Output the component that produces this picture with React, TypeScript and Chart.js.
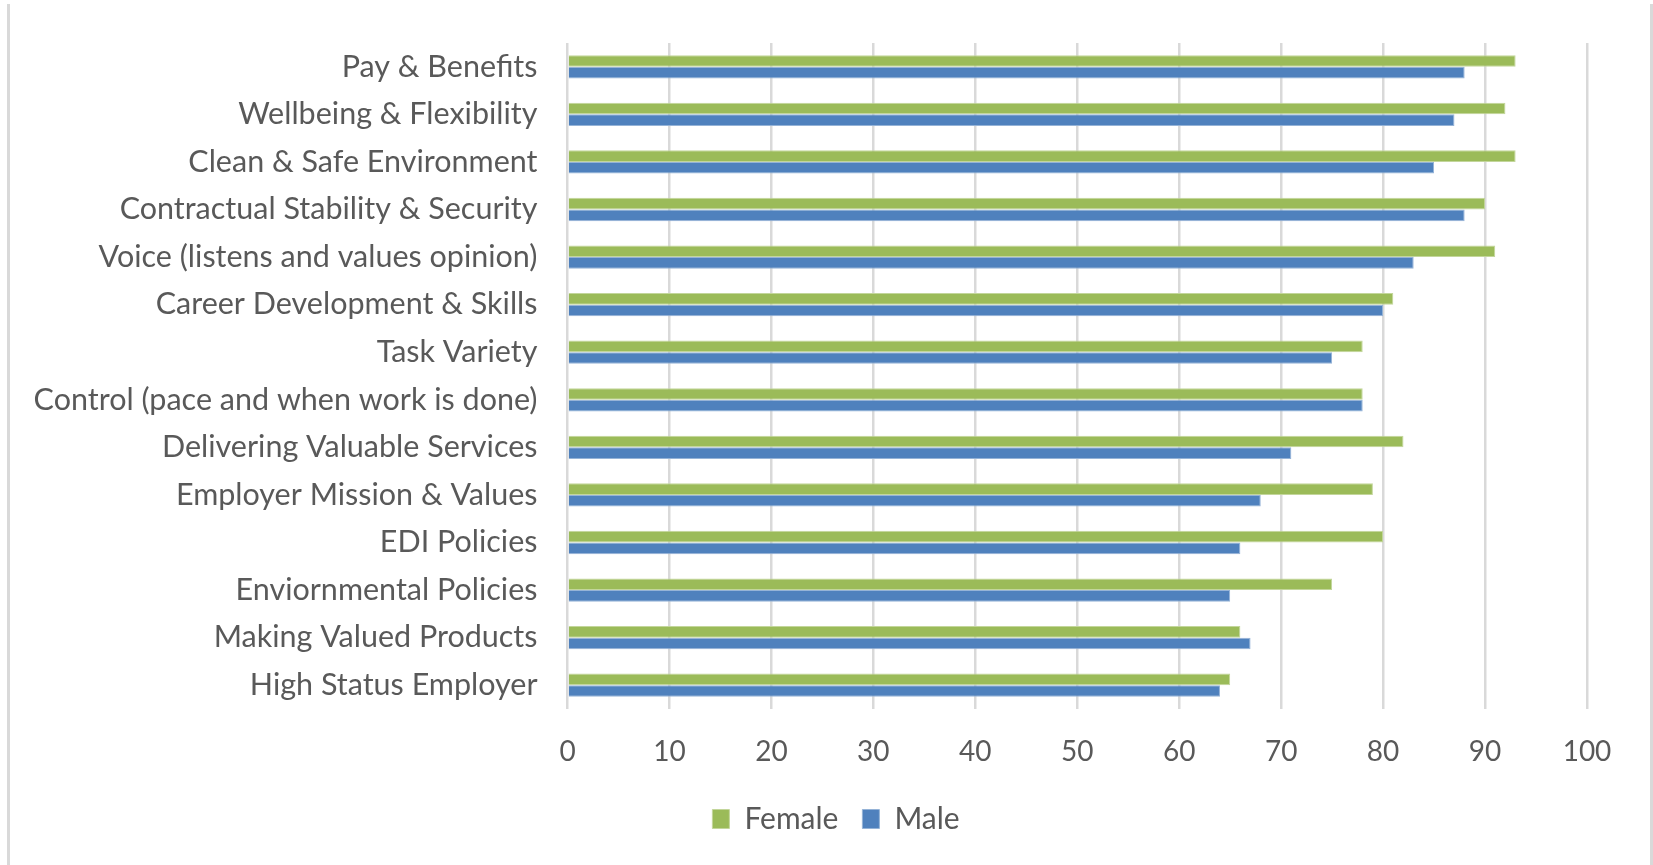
import React, { useEffect, useRef } from "react";
import { Chart, registerables } from "chart.js";

Chart.register(...registerables);

const categories = [
  "Pay & Benefits",
  "Wellbeing & Flexibility",
  "Clean & Safe Environment",
  "Contractual Stability & Security",
  "Voice (listens and values opinion)",
  "Career Development & Skills",
  "Task Variety",
  "Control (pace and when work is done)",
  "Delivering Valuable Services",
  "Employer Mission & Values",
  "EDI Policies",
  "Enviornmental Policies",
  "Making Valued Products",
  "High Status Employer",
];

const femaleValues = [93, 92, 93, 90, 91, 81, 78, 78, 82, 79, 80, 75, 66, 65];
const maleValues = [88, 87, 85, 88, 83, 80, 75, 78, 71, 68, 66, 65, 67, 64];

const xTicks = [0, 10, 20, 30, 40, 50, 60, 70, 80, 90, 100];

const FONT = "Lato";
const TEXT = "#595959";

const legendShift = {
  id: "legendShift",
  afterLayout(chart: any) {
    if (chart.legend) {
      chart.legend.left = 19;
      chart.legend.right = 1653;
      chart.legend.width = 1653 - 19;
    }
  },
};

export default function App() {
  const ref = useRef<HTMLCanvasElement | null>(null);

  useEffect(() => {
    if (!ref.current) return;
    const chart = new Chart(ref.current, {
      type: "bar",
      data: {
        labels: categories,
        datasets: [
          {
            label: "Female",
            data: femaleValues,
            backgroundColor: "#9BBB59",
            borderColor: "#C3D69B",
            borderWidth: 1,
            categoryPercentage: 0.49,
            barPercentage: 1.0,
          },
          {
            label: "Male",
            data: maleValues,
            backgroundColor: "#4F81BD",
            borderColor: "#95B3D7",
            borderWidth: 1,
            categoryPercentage: 0.49,
            barPercentage: 1.0,
          },
        ],
      },
      plugins: [legendShift],
      options: {
        indexAxis: "y",
        animation: false,
        responsive: false,
        maintainAspectRatio: false,
        layout: { padding: { left: 0, right: 66, top: 43, bottom: 21 } },
        scales: {
          x: {
            type: "linear",
            min: 0,
            max: 100,
            afterBuildTicks: (scale: any) => {
              scale.ticks = xTicks.map((v) => ({ value: v }));
            },
            afterFit: (scale: any) => {
              scale.height = 71;
              scale.paddingLeft = 0;
              scale.paddingRight = 0;
            },
            grid: { color: "#D9D9D9", lineWidth: 2.5, drawTicks: false },
            border: { display: false },
            ticks: {
              padding: 26,
              color: TEXT,
              font: { family: FONT, size: 28 },
              maxRotation: 0,
            },
          },
          y: {
            type: "category",
            afterFit: (scale: any) => {
              scale.width = 567.5;
              scale.paddingTop = 0;
              scale.paddingBottom = 0;
            },
            grid: { display: false, drawTicks: false },
            border: { display: false },
            ticks: {
              padding: 30,
              color: TEXT,
              font: { family: FONT, size: 30.5 },
              autoSkip: false,
            },
          },
        },
        plugins: {
          legend: {
            position: "bottom",
            labels: {
              boxWidth: 17,
              boxHeight: 19,
              padding: 24,
              color: TEXT,
              font: { family: FONT, size: 30 },
            },
          },
          tooltip: { enabled: false },
        },
      },
    });
    return () => chart.destroy();
  }, []);

  return (
    <div
      style={{
        position: "fixed",
        left: 0,
        top: 0,
        width: 1653,
        height: 865,
        background: "#fff",
        overflow: "hidden",
      }}
    >
      <div
        style={{
          position: "absolute",
          left: 7,
          top: 4,
          width: 1646,
          bottom: 0,
          borderLeft: "3px solid #D9D9D9",
          borderRight: "3px solid #D9D9D9",
          boxSizing: "border-box",
        }}
      />
      <canvas
        ref={ref}
        width={1653}
        height={865}
        style={{ position: "absolute", left: 0, top: 0, width: 1653, height: 865 }}
      />
    </div>
  );
}
